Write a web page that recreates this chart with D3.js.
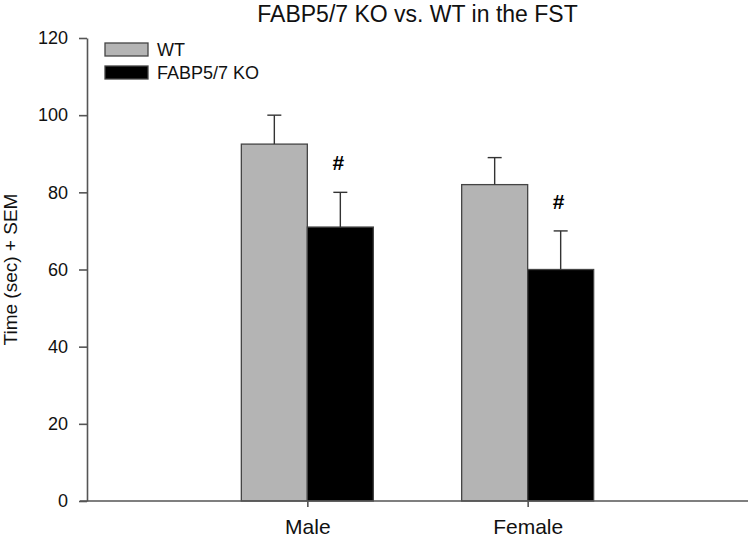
<!DOCTYPE html>
<html>
<head>
<meta charset="utf-8">
<script src="https://cdn.jsdelivr.net/npm/d3@7"></script>
<style>
  body { margin: 0; background: #fff; }
  svg { font-family: "Liberation Sans", Arial, sans-serif; }
</style>
</head>
<body>
<svg width="750" height="538"></svg>
<script>
// values
var categories = ["Male", "Female"];
var seriesNames = ["WT", "FABP5/7 KO"];
var wtMeans = [92.5, 82];
var wtSem = [7.5, 7];
var koMeans = [71, 60];
var koSem = [9, 10];
var sigMarks = ["#", "#"];          // shown above the KO bars
var yTicks = [0, 20, 40, 60, 80, 100, 120];

var colors = {"WT": "#b4b4b4", "FABP5/7 KO": "#000000"};

var svg = d3.select("svg"),
    margin = {top: 38, right: 2, bottom: 37, left: 87},
    width = +svg.attr("width") - margin.left - margin.right,
    height = +svg.attr("height") - margin.top - margin.bottom,
    g = svg.append("g").attr("transform", "translate(" + margin.left + "," + margin.top + ")");

// build rows for drawing
var rows = [];
categories.forEach(function(c, i) {
    rows.push({cat: c, series: "WT", mean: wtMeans[i], sem: wtSem[i], mark: ""});
    rows.push({cat: c, series: "FABP5/7 KO", mean: koMeans[i], sem: koSem[i], mark: sigMarks[i]});
});

var x = d3.scalePoint()
    .domain(categories)
    .range([0, width])
    .padding(1);

var xSub = d3.scaleBand()
    .domain(seriesNames)
    .range([-66, 66]);

var y = d3.scaleLinear()
    .domain([0, 120])
    .range([height, 0]);

// bars
g.selectAll("rect.bar")
    .data(rows)
  .enter().append("rect")
    .attr("class", "bar")
    .attr("x", function(d) { return x(d.cat) + xSub(d.series); })
    .attr("y", function(d) { return y(d.mean); })
    .attr("width", xSub.bandwidth())
    .attr("height", function(d) { return y(0) - y(d.mean); })
    .attr("fill", function(d) { return colors[d.series]; })
    .attr("stroke", "#444")
    .attr("stroke-width", 1.3);

// error bars (upper only)
var err = g.selectAll("g.err")
    .data(rows)
  .enter().append("g")
    .attr("class", "err")
    .attr("stroke", "#333")
    .attr("stroke-width", 1.4);

err.append("line")
    .attr("x1", function(d) { return x(d.cat) + xSub(d.series) + xSub.bandwidth() / 2; })
    .attr("x2", function(d) { return x(d.cat) + xSub(d.series) + xSub.bandwidth() / 2; })
    .attr("y1", function(d) { return y(d.mean); })
    .attr("y2", function(d) { return y(d.mean + d.sem); });

err.append("line")
    .attr("x1", function(d) { return x(d.cat) + xSub(d.series) + xSub.bandwidth() / 2 - 7; })
    .attr("x2", function(d) { return x(d.cat) + xSub(d.series) + xSub.bandwidth() / 2 + 7; })
    .attr("y1", function(d) { return y(d.mean + d.sem); })
    .attr("y2", function(d) { return y(d.mean + d.sem); });

// significance marks
g.selectAll("text.sig")
    .data(rows.filter(function(d) { return d.mark; }))
  .enter().append("text")
    .attr("class", "sig")
    .attr("x", function(d) { return x(d.cat) + xSub(d.series) + xSub.bandwidth() / 2 - 2; })
    .attr("y", function(d) { return y(d.mean + d.sem) - 22; })
    .attr("text-anchor", "middle")
    .attr("font-size", 21)
    .attr("font-weight", "bold")
    .text(function(d) { return d.mark; });

// axes
var yAxis = g.append("g")
    .attr("class", "axis axis--y")
    .call(d3.axisLeft(y).tickValues(yTicks).tickSize(8).tickPadding(11).tickSizeOuter(0));

var xAxis = g.append("g")
    .attr("class", "axis axis--x")
    .attr("transform", "translate(0," + height + ")")
    .call(d3.axisBottom(x).tickSize(6).tickPadding(12).tickSizeOuter(0));

g.selectAll(".axis path, .axis line")
    .attr("stroke", "#555")
    .attr("stroke-width", 1.6);
yAxis.selectAll("text").attr("font-size", 18).attr("fill", "#111").attr("font-family", "Liberation Sans, Arial, sans-serif");
xAxis.selectAll("text").attr("font-size", 21).attr("fill", "#111").attr("font-family", "Liberation Sans, Arial, sans-serif");

// extend x axis under the 0 tick
xAxis.select("path.domain").attr("d", "M-7,0H" + width);

// y label
svg.append("text")
    .attr("transform", "translate(17," + (margin.top + height / 2) + ") rotate(-90)")
    .attr("text-anchor", "middle")
    .attr("font-size", 19)
    .attr("fill", "#111")
    .text("Time (sec) + SEM");

// title
svg.append("text")
    .attr("x", margin.left + width / 2)
    .attr("y", 22)
    .attr("text-anchor", "middle")
    .attr("font-size", 23)
    .attr("fill", "#111")
    .text("FABP5/7 KO vs. WT in the FST");

// legend
var legend = svg.append("g")
    .attr("transform", "translate(105,43)");

var li = legend.selectAll("g")
    .data(seriesNames)
  .enter().append("g")
    .attr("transform", function(d, i) { return "translate(0," + (i * 23) + ")"; });

li.append("rect")
    .attr("width", 43)
    .attr("height", 13)
    .attr("fill", function(d) { return colors[d]; })
    .attr("stroke", "#444")
    .attr("stroke-width", 1.3);

li.append("text")
    .attr("x", 52)
    .attr("y", 13)
    .attr("font-size", 18)
    .attr("fill", "#111")
    .text(function(d) { return d; });
</script>
</body>
</html>
